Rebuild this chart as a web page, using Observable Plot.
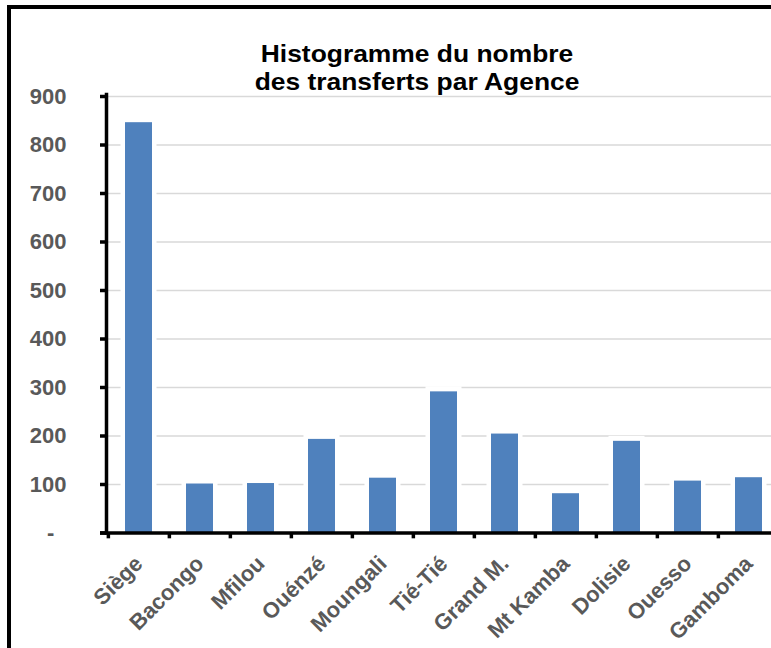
<!DOCTYPE html>
<html>
<head>
<meta charset="utf-8">
<script src="https://cdn.jsdelivr.net/npm/d3@7"></script>
<script src="https://cdn.jsdelivr.net/npm/@observablehq/plot@0.6"></script>
<style>
  html, body { margin: 0; padding: 0; background: #fff; overflow: hidden; }
  #wrap { position: relative; width: 771px; height: 648px; overflow: hidden; }
  #border { position: absolute; left: 7px; top: 5px; width: 900px; height: 800px;
            border-left: 4.5px solid #000; border-top: 4.5px solid #000; box-sizing: border-box; }
  #title { position: absolute; left: 0; top: 40px; width: 834px; text-align: center;
           font-family: "Liberation Sans", Arial, sans-serif; font-weight: bold; font-size: 24px;
           line-height: 28px; color: #000; transform: scaleX(1.1); transform-origin: 417px 0; z-index: 2; }
  #chart { position: absolute; left: 0; top: 0; }
</style>
</head>
<body>
<div id="wrap">
  <div id="chart"></div>
  <div id="border"></div>
  <div id="title">Histogramme du nombre<br>des transferts par Agence</div>
</div>
<script>
const agences = ["Siège", "Bacongo", "Mfilou", "Ouénzé", "Moungali", "Tié-Tié", "Grand M.", "Mt Kamba", "Dolisie", "Ouesso", "Gamboma"];
const transferts = [846, 101, 102, 193, 113, 291, 204, 81, 189, 107, 114];
const yTicks = [0, 100, 200, 300, 400, 500, 600, 700, 800, 900];

const data = agences.map((a, i) => ({agence: a, n: transferts[i]}));

const xRange = [106, 780];
const step = (xRange[1] - xRange[0]) / agences.length;

const chart = Plot.plot({
  width: 771,
  height: 648,
  marginLeft: 106,
  marginRight: 0,
  marginTop: 96,
  marginBottom: 115.5,
  style: {fontFamily: "'Liberation Sans', Arial, sans-serif", fontWeight: "bold", fontSize: "22px", background: "transparent"},
  x: {domain: agences, range: xRange, paddingInner: 0.56, paddingOuter: 0.28, axis: null},
  y: {domain: [0, 900], axis: null},
  marks: [
    Plot.ruleY(yTicks.filter(d => d > 0), {stroke: "#d9d9d9", strokeWidth: 1.5}),
    Plot.barY(data, {x: "agence", y: "n", fill: "white", insetLeft: -4.5, insetRight: -4.5, insetTop: -5}),
    Plot.barY(data, {x: "agence", y: "n", fill: "#4f81bd"}),
    Plot.frame({anchor: "left", stroke: "#000", strokeWidth: 3.5, insetTop: -2}),
    Plot.ruleY([0], {stroke: "#000", strokeWidth: 3.5, insetLeft: -6}),
    Plot.ruleX(agences, {x: d => d, y1: 0, y2: -12, dx: -step / 2, stroke: "#000", strokeWidth: 3.5}),
    Plot.axisY({ticks: yTicks, tickSize: 6, tickPadding: 34, stroke: "#000", strokeWidth: 3.5,
                fill: "#595959", fontSize: 22, fontWeight: "bold", label: null,
                tickFormat: d => d === 0 ? "-\u2007" : String(d)}),
    Plot.text(agences, {x: d => d, y: 0, text: d => d, rotate: -45, textAnchor: "end",
                        dx: 0, dy: 27, fill: "#595959", fontSize: 22, fontWeight: "bold"})
  ]
});
document.getElementById("chart").appendChild(chart);
</script>
</body>
</html>
